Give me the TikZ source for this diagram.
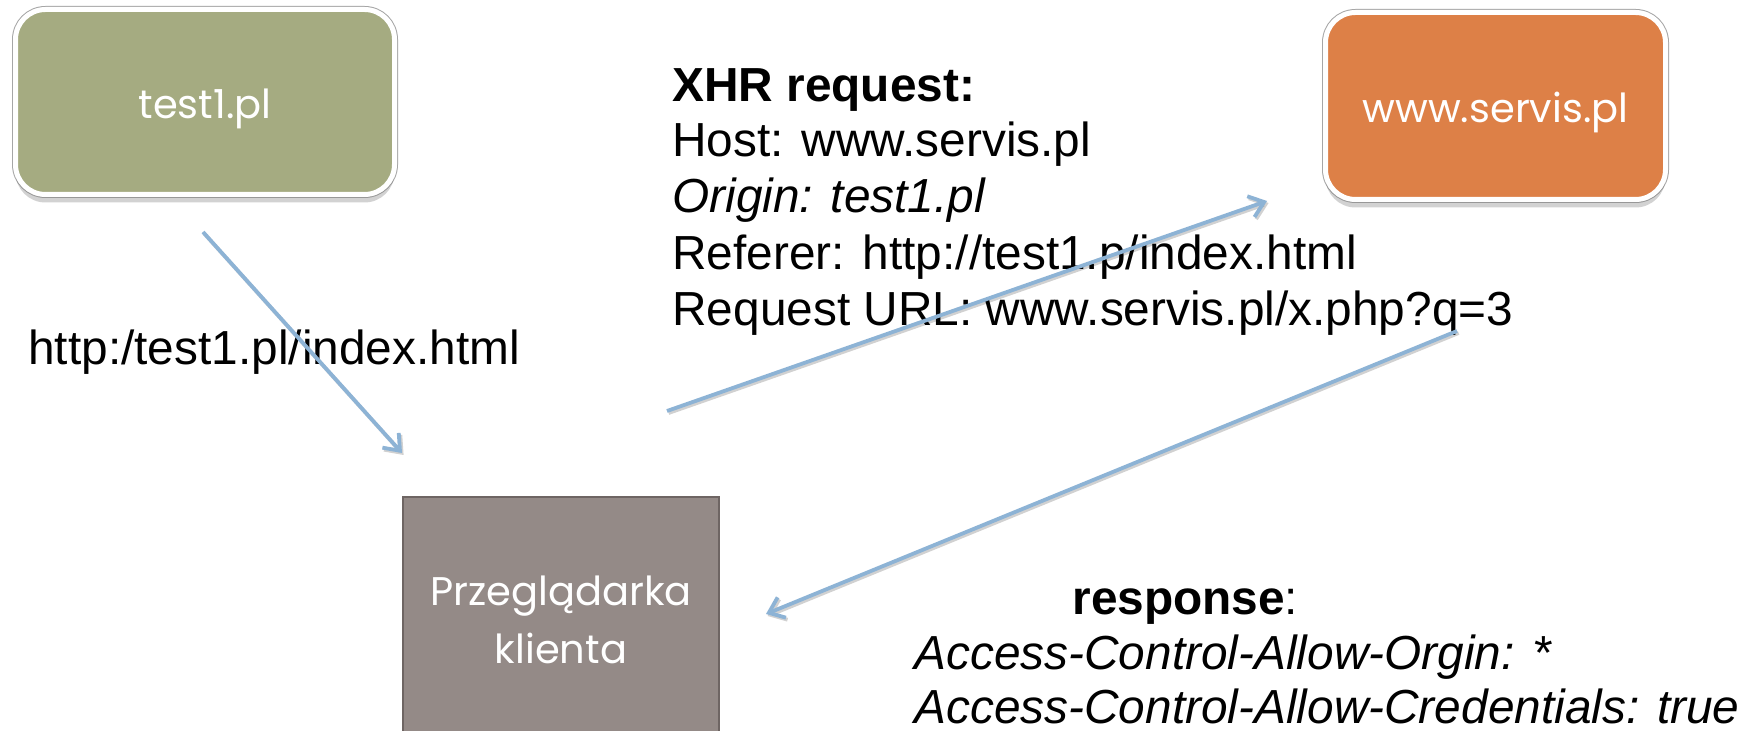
\documentclass[tikz,border=0pt]{standalone}
\usepackage{fontspec}
\setmainfont{Liberation Sans}
\newfontfamily\boxfont{Poppins}
\usetikzlibrary{arrows.meta,shadows}
\definecolor{grn}{RGB}{165,171,129}
\definecolor{org}{RGB}{221,128,71}
\definecolor{gry}{RGB}{148,138,135}
\definecolor{gryb}{RGB}{110,101,99}
\definecolor{arr}{RGB}{141,179,213}
\begin{document}
\begin{tikzpicture}[x=0.5pt,y=-0.5pt,
  roundbox/.style={rounded corners=15pt, draw=white, line width=2.5pt,
    preaction={draw=black!35, line width=3.5pt},
    drop shadow={shadow xshift=0pt, shadow yshift=-4pt, opacity=0.35},
    text=white, font=\boxfont\fontsize{20}{23}\selectfont, inner sep=0pt,
    text height=16.5pt, text depth=0pt},
  clientbox/.style={draw=gryb, fill=gry, line width=1pt, text=white, align=center,
    font=\boxfont\fontsize{20}{29}\selectfont, inner sep=0pt},
  txt/.style={anchor=base west, inner sep=0pt, font=\fontsize{23.9}{28}\selectfont},
  conn/.style={draw=arr, line width=1.9pt, -{Straight Barb[length=7pt,width=11pt]},
    preaction={draw=black, opacity=0.18, line width=1.9pt,
      -{Straight Barb[length=7pt,width=11pt]},
      transform canvas={xshift=0.8pt,yshift=-1pt}}}]
\useasboundingbox (0,0) rectangle (1758,731);
\fill[white] (0,0) rectangle (1758,731);

% boxes
\node[roundbox, fill=grn, minimum width=189.5pt, minimum height=92.5pt] (test) at (205,102) {test1.pl};
\node[roundbox, fill=org, minimum width=170pt, minimum height=93.5pt] (servis) at (1495.5,106) {www.servis.pl};
\node[clientbox, minimum width=158pt, minimum height=118pt, text height=48.8pt, text depth=0pt] (client) at (561,615) {Przeglądarka\\klienta};

% texts
\node[txt] (url) at (28,365) {http:/test1.pl/index.html};
\node[txt] (xhr) at (672,102) {\textbf{XHR request:}};
\node[txt] (host) at (672,157) {Host: www.servis.pl};
\node[txt] (origin) at (672,213) {\textit{Origin: test1.pl}};
\node[txt] (referer) at (672,270) {Referer: http://test1.p/index.html};
\node[txt] (requrl) at (672,326) {Request URL: www.servis.pl/x.php?q=3};
\node[txt] (resp) at (1072,615) {\textbf{response}:};
\node[txt] (acao) at (914,670) {\textit{Access-Control-Allow-Orgin: *}};
\node[txt] (acac) at (914,724) {\textit{Access-Control-Allow-Credentials: true}};

% connectors
\coordinate (a1s) at (203,232);
\coordinate (a1e) at (402,453);
\coordinate (a2s) at (667,411);
\coordinate (a2e) at (1267,201);
\coordinate (a3s) at (1457,331);
\coordinate (a3e) at (766,614);
\draw[conn] (a1s) -- (a1e);
\draw[conn] (a2s) -- (a2e);
\draw[conn] (a3s) -- (a3e);
\end{tikzpicture}
\end{document}
